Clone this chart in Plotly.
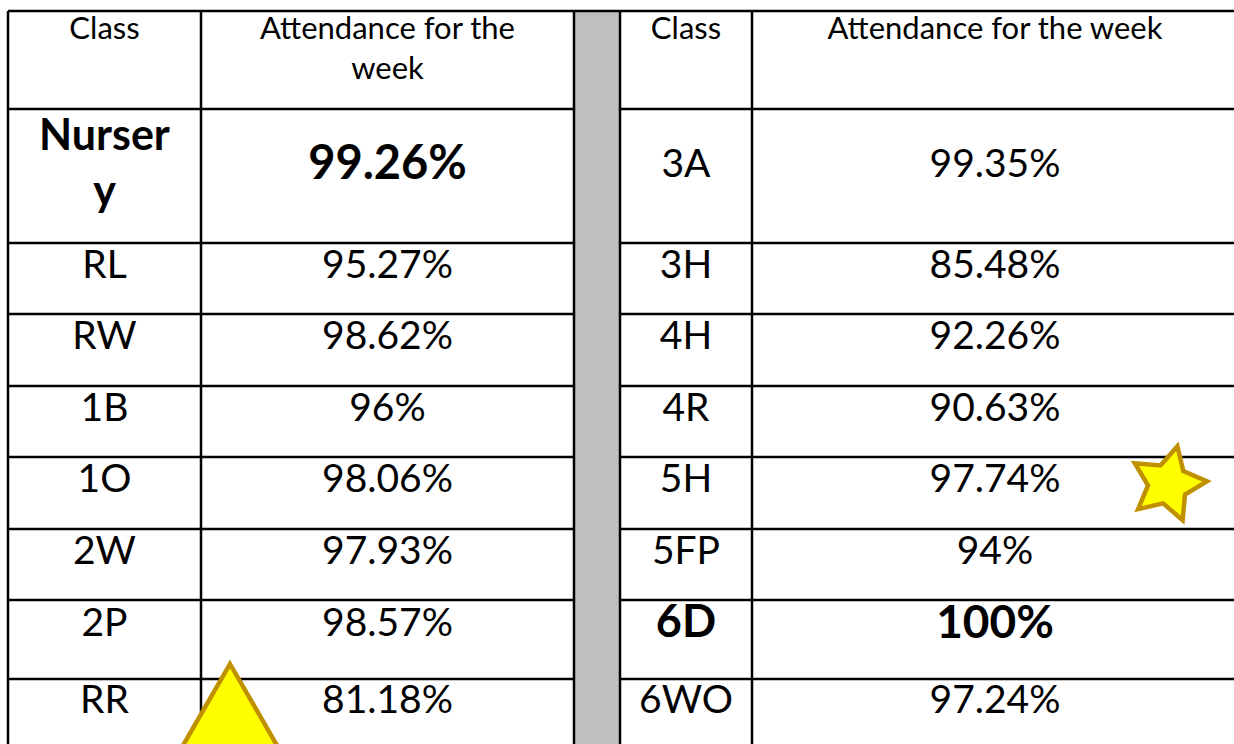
import numpy as np
import plotly.graph_objects as go

# ---------------- data ----------------
header_class = "Class"
header_att_left = "Attendance for the<br>week"
header_att_right = "Attendance for the week"

left_classes = ["Nursery", "RL", "RW", "1B", "1O", "2W", "2P", "RR"]
left_values = [99.26, 95.27, 98.62, 96, 98.06, 97.93, 98.57, 81.18]
right_classes = ["3A", "3H", "4H", "4R", "5H", "5FP", "6D", "6WO"]
right_values = [99.35, 85.48, 92.26, 90.63, 97.74, 94, 100, 97.24]
left_bold = [True, False, False, False, False, False, False, False]
right_bold = [False, False, False, False, False, False, True, False]

# ---------------- layout (pixels in a 1234x744 frame) ----------------
W, H = 1234, 744
col_edges = [8, 201, 574, 620, 752, 1238]
row_edges = [11, 109, 243, 314, 386, 457, 529, 600, 679, 760]
row_text_offset = [58, 25, 25, 25, 25, 25, 26, 24]   # text centre below row top
header_text_y = 31
FONT = "Lato, 'Open Sans', sans-serif"
LINE = "#000000"
GRAY = "#C0C0C0"
STAR_FILL, STAR_LINE = "#FFFF00", "#BF9000"
HDR_SIZE, BODY_SIZE = 31, 39


def fmt(v):
    return f"{v:g}%"


def wrap(s, n=6):
    return s if len(s) <= n else s[:n] + "<br>" + s[n:]


def centre(a, b):
    return (a + b) / 2


xc = [centre(col_edges[i], col_edges[i + 1]) for i in range(len(col_edges) - 1)]
row_tops = row_edges[1:-1]
text_y = [t + o for t, o in zip(row_tops, row_text_offset)]

fig = go.Figure()

# headers
hdr_x = [xc[0], xc[1], xc[3], xc[4]]
hdr_t = [header_class, header_att_left, header_class, header_att_right]
hdr_y = [header_text_y + (t.count("<br>")) * 1.3 * HDR_SIZE / 2 for t in hdr_t]
fig.add_trace(go.Scatter(x=hdr_x, y=hdr_y, text=hdr_t, mode="text",
                         textposition="middle center", hoverinfo="skip",
                         textfont=dict(family=FONT, size=HDR_SIZE, color="#000")))

# body cells
reg = dict(x=[], y=[], t=[], s=[])
bold = dict(x=[], y=[], t=[], s=[])
for i in range(len(left_classes)):
    cells = [
        (xc[0], wrap(left_classes[i]), left_bold[i], 43 if left_bold[i] else BODY_SIZE),
        (xc[1], fmt(left_values[i]), left_bold[i], 47 if left_bold[i] else BODY_SIZE),
        (xc[3], right_classes[i], right_bold[i], 45 if right_bold[i] else BODY_SIZE),
        (xc[4], fmt(right_values[i]), right_bold[i], 46 if right_bold[i] else BODY_SIZE),
    ]
    for x, t, b, s in cells:
        d = bold if b else reg
        d["x"].append(x)
        d["y"].append(text_y[i])
        d["t"].append(t)
        d["s"].append(s)

for d, w in ((reg, "normal"), (bold, "bold")):
    fig.add_trace(go.Scatter(x=d["x"], y=d["y"], text=d["t"], mode="text",
                             textposition="middle center", hoverinfo="skip",
                             textfont=dict(family=FONT, size=d["s"], color="#000",
                                           weight=w)))

shapes = []
top, bottom = row_edges[0], row_edges[-1]
# gray spacer column
shapes.append(dict(type="rect", xref="x", yref="y", x0=col_edges[2], x1=col_edges[3],
                   y0=top, y1=bottom, fillcolor=GRAY, line=dict(width=0), layer="below"))
# horizontal lines (not through gray column, except the top border)
shapes.append(dict(type="line", x0=col_edges[0], x1=col_edges[-1], y0=top, y1=top,
                   line=dict(color=LINE, width=2.5)))
for y in row_edges[1:-1]:
    for a, b in ((col_edges[0], col_edges[2]), (col_edges[3], col_edges[-1])):
        shapes.append(dict(type="line", x0=a, x1=b, y0=y, y1=y,
                           line=dict(color=LINE, width=2.5)))
# vertical lines
for x in col_edges:
    shapes.append(dict(type="line", x0=x, x1=x, y0=top, y1=bottom,
                       line=dict(color=LINE, width=2.5)))

# star decoration
scx, scy, R, r_in, rot = 1168, 484, 39, 20, 14
pts = []
for k in range(10):
    rad = R if k % 2 == 0 else r_in
    th = np.deg2rad(rot + 36 * k)
    pts.append((scx + rad * np.sin(th), scy - rad * np.cos(th)))
star_path = "M " + " L ".join(f"{px:.1f},{py:.1f}" for px, py in pts) + " Z"
shapes.append(dict(type="path", path=star_path, fillcolor=STAR_FILL,
                   line=dict(color=STAR_LINE, width=4.5)))

# triangle decoration
tax, tay, side = 230, 664, 130
th = side * np.sqrt(3) / 2
tri_path = (f"M {tax},{tay} L {tax + side / 2:.1f},{tay + th:.1f} "
            f"L {tax - side / 2:.1f},{tay + th:.1f} Z")
shapes.append(dict(type="path", path=tri_path, fillcolor=STAR_FILL,
                   line=dict(color=STAR_LINE, width=4.5)))

fig.update_layout(
    width=W, height=H, margin=dict(l=0, r=0, t=0, b=0),
    paper_bgcolor="white", plot_bgcolor="white", showlegend=False,
    xaxis=dict(range=[0, W], visible=False, fixedrange=True),
    yaxis=dict(range=[H, 0], visible=False, fixedrange=True),
    shapes=shapes,
)

fig.write_html("out.html", config={"displayModeBar": False},
               post_script="document.body.style.margin='0';document.body.style.overflow='hidden';")
